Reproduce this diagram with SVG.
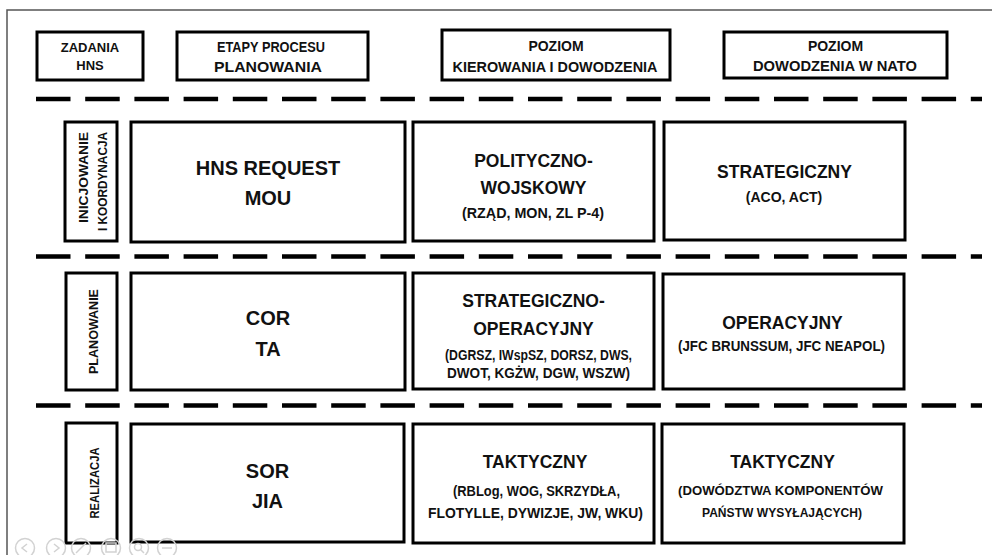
<svg xmlns="http://www.w3.org/2000/svg" width="992" height="555" viewBox="0 0 992 555">
<style>
.box{fill:#fff;stroke:#000;stroke-width:3}
.t{font-family:"Liberation Sans",Arial,sans-serif;font-weight:bold;fill:#111;text-anchor:middle}
.h{font-size:13px}
.big{font-size:20px}
.hd{font-size:17.5px}
.sub{font-size:14px}
.dash{stroke:#000;stroke-width:4.3;stroke-dasharray:34.5 14.7;fill:none}
.ic{fill:none;stroke:#d2d2d2;stroke-width:1.5}
</style>
<rect x="0" y="0" width="992" height="555" fill="#fff"/>
<path d="M7,555 V10 H992" fill="none" stroke="#555" stroke-width="1.5"/>

<g id="connectors">
<line class="dash" x1="36" y1="99" x2="982" y2="99"/>
<line class="dash" x1="36" y1="256.5" x2="982" y2="256.5"/>
<line class="dash" x1="36" y1="405.5" x2="982" y2="405.5"/>
</g>

<g id="hdr-zadania">
<rect class="box" x="37" y="32" width="106" height="48"/>
<text class="t h" x="90" y="52">ZADANIA</text>
<text class="t h" x="90" y="70">HNS</text>
</g>
<g id="hdr-etapy">
<rect class="box" x="177" y="32" width="191" height="48"/>
<text class="t" font-size="14" x="271" y="52" textLength="108" lengthAdjust="spacingAndGlyphs">ETAPY PROCESU</text>
<text class="t" font-size="14" x="268" y="72" textLength="108" lengthAdjust="spacingAndGlyphs">PLANOWANIA</text>
</g>
<g id="hdr-kierowania">
<rect class="box" x="442" y="30" width="228" height="50"/>
<text class="t" font-size="14" x="556" y="51">POZIOM</text>
<text class="t" font-size="14" x="555" y="72" textLength="205" lengthAdjust="spacingAndGlyphs">KIEROWANIA I DOWODZENIA</text>
</g>
<g id="hdr-nato">
<rect class="box" x="724" y="32" width="223" height="46"/>
<text class="t" font-size="14" x="835.5" y="51">POZIOM</text>
<text class="t" font-size="14" x="835" y="71" textLength="164" lengthAdjust="spacingAndGlyphs">DOWODZENIA W NATO</text>
</g>

<g id="side-inicjowanie">
<rect class="box" x="65" y="122" width="52" height="119"/>
<text class="t" font-size="13.5" style="text-anchor:end" transform="translate(88,132) rotate(-90)" textLength="91" lengthAdjust="spacingAndGlyphs">INICJOWANIE</text>
<text class="t" font-size="13.5" style="text-anchor:end" transform="translate(107,132) rotate(-90)" textLength="99" lengthAdjust="spacingAndGlyphs">I KOORDYNACJA</text>
</g>
<g id="r1-hns">
<rect class="box" x="131" y="122" width="274" height="120"/>
<text class="t big" x="268" y="175">HNS REQUEST</text>
<text class="t big" x="268" y="205">MOU</text>
</g>
<g id="r1-polityczno">
<rect class="box" x="413" y="122" width="241" height="119"/>
<text class="t hd" x="533.5" y="167">POLITYCZNO-</text>
<text class="t hd" x="533.5" y="194">WOJSKOWY</text>
<text class="t sub" x="533" y="218" textLength="142" lengthAdjust="spacingAndGlyphs">(RZĄD, MON, ZL P-4)</text>
</g>
<g id="r1-strategiczny">
<rect class="box" x="664" y="122" width="241" height="118"/>
<text class="t hd" x="784.5" y="178">STRATEGICZNY</text>
<text class="t sub" x="784" y="202">(ACO, ACT)</text>
</g>

<g id="side-planowanie">
<rect class="box" x="66" y="273" width="51" height="117"/>
<text class="t" font-size="12.5" transform="translate(98,331.5) rotate(-90)" textLength="85" lengthAdjust="spacingAndGlyphs">PLANOWANIE</text>
</g>
<g id="r2-cor">
<rect class="box" x="131" y="273" width="274" height="117"/>
<text class="t big" x="268" y="325">COR</text>
<text class="t big" x="268" y="356">TA</text>
</g>
<g id="r2-strategiczno">
<rect class="box" x="413" y="273" width="241" height="116"/>
<text class="t hd" x="533.5" y="307">STRATEGICZNO-</text>
<text class="t hd" x="533.5" y="335">OPERACYJNY</text>
<text class="t sub" x="538.5" y="360" textLength="187" lengthAdjust="spacingAndGlyphs">(DGRSZ, IWspSZ, DORSZ, DWS,</text>
<text class="t sub" x="538.5" y="378" textLength="183" lengthAdjust="spacingAndGlyphs">DWOT, KGŻW, DGW, WSZW)</text>
</g>
<g id="r2-operacyjny">
<rect class="box" x="663" y="274" width="241" height="115"/>
<text class="t hd" x="782.5" y="329">OPERACYJNY</text>
<text class="t sub" x="781.5" y="351" textLength="207" lengthAdjust="spacingAndGlyphs">(JFC BRUNSSUM, JFC NEAPOL)</text>
</g>

<g id="side-realizacja">
<rect class="box" x="66" y="423" width="51" height="120"/>
<text class="t" font-size="12" transform="translate(99,483) rotate(-90)" textLength="71" lengthAdjust="spacingAndGlyphs">REALIZACJA</text>
</g>
<g id="r3-sor">
<rect class="box" x="131" y="424" width="273" height="118"/>
<text class="t big" x="267.5" y="478">SOR</text>
<text class="t big" x="267.5" y="508">JIA</text>
</g>
<g id="r3-taktyczny">
<rect class="box" x="413" y="424" width="241" height="119"/>
<text class="t hd" x="535" y="468">TAKTYCZNY</text>
<text class="t sub" x="536.5" y="496" textLength="167" lengthAdjust="spacingAndGlyphs">(RBLog, WOG, SKRZYDŁA,</text>
<text class="t sub" x="535.5" y="518" textLength="215" lengthAdjust="spacingAndGlyphs">FLOTYLLE, DYWIZJE, JW, WKU)</text>
</g>
<g id="r3-taktyczny-nato">
<rect class="box" x="662" y="424" width="242" height="119"/>
<text class="t hd" x="782.5" y="468">TAKTYCZNY</text>
<text class="t" font-size="13" x="780.5" y="495" textLength="205" lengthAdjust="spacingAndGlyphs">(DOWÓDZTWA KOMPONENTÓW</text>
<text class="t" font-size="13" x="782" y="517" textLength="160" lengthAdjust="spacingAndGlyphs">PAŃSTW WYSYŁAJĄCYCH)</text>
</g>

<g id="toolbar">
<circle class="ic" cx="25" cy="548" r="9.5"/>
<path class="ic" d="M27,544 L22,548 L27,552"/>
<circle class="ic" cx="56" cy="548" r="9.5"/>
<path class="ic" d="M54,544 L59,548 L54,552"/>
<circle class="ic" cx="81" cy="548" r="9.5"/>
<path class="ic" d="M76,553 L86,543"/>
<circle class="ic" cx="111" cy="548" r="9.5"/>
<rect class="ic" x="106" y="543" width="10" height="9"/>
<circle class="ic" cx="139" cy="548" r="9.5"/>
<circle class="ic" cx="138" cy="547" r="3.5"/>
<path class="ic" d="M140.5,549.5 L144,553"/>
<circle class="ic" cx="167" cy="548" r="9.5"/>
<path class="ic" d="M162,548 H172"/>
</g>
</svg>
